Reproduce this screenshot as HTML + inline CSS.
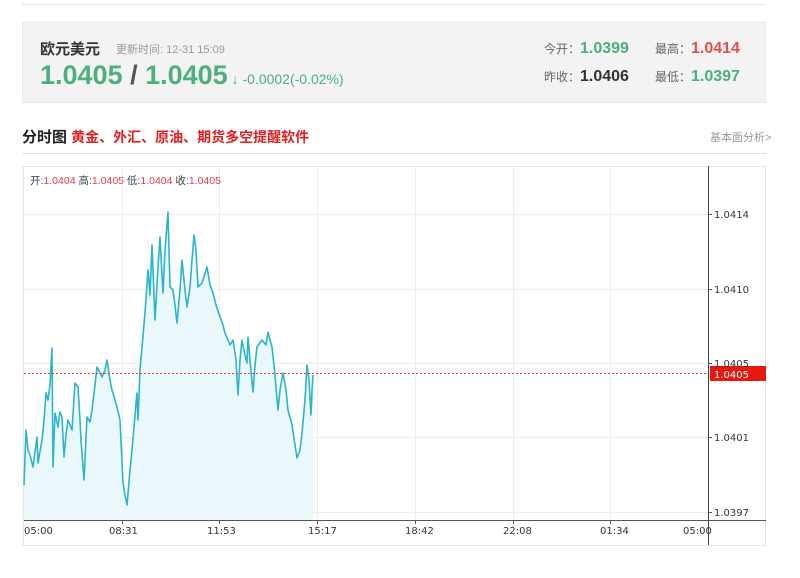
<!DOCTYPE html>
<html><head><meta charset="utf-8"><style>
body{margin:0;width:800px;height:578px;background:#fff;font-family:"Liberation Sans","Noto Sans CJK SC",sans-serif;position:relative;overflow:hidden}
.a{position:absolute;white-space:nowrap}
</style></head><body>
<div class="a" style="left:22px;top:0;width:744px;height:4px;border-bottom:1px solid #e6e6e6"></div>
<div class="a" style="left:22px;top:22px;width:744px;height:81px;background:#f3f3f3;border:1px solid #e8e8e8;box-sizing:border-box"></div>
<div class="a" style="left:40px;top:38px;font-size:15px;font-weight:bold;color:#333">欧元美元</div>
<div class="a" style="left:116px;top:41px;font-size:11px;color:#999">更新时间: 12-31 15:09</div>
<div class="a" style="left:40px;top:60px;font-size:27px;font-weight:bold;color:#4caf7d">1.0405<span style="color:#555"> / </span>1.0405<span style="font-size:14px;font-weight:normal"> ↓ </span><span style="font-size:14px;font-weight:normal">-0.0002(-0.02%)</span></div>
<div class="a" style="left:544px;top:40px;font-size:12px;color:#666">今开：<span style="font-size:16px;font-weight:bold;color:#4caf7d">1.0399</span></div>
<div class="a" style="left:655px;top:40px;font-size:12px;color:#666">最高：<span style="font-size:16px;font-weight:bold;color:#e05050">1.0414</span></div>
<div class="a" style="left:544px;top:68px;font-size:12px;color:#666">昨收：<span style="font-size:16px;font-weight:bold;color:#333">1.0406</span></div>
<div class="a" style="left:655px;top:68px;font-size:12px;color:#666">最低：<span style="font-size:16px;font-weight:bold;color:#4caf7d">1.0397</span></div>
<div class="a" style="left:22px;top:126px;font-size:15px;font-weight:bold;color:#222">分时图 <span style="color:#e02020;font-size:14px">黄金、外汇、原油、期货多空提醒软件</span></div>
<div class="a" style="left:710px;top:129px;font-size:11px;color:#999">基本面分析&gt;</div>
<div class="a" style="left:22px;top:153px;width:744px;height:1px;background:#ddd"></div>
<svg class="a" style="left:0;top:0" width="800" height="578">
<rect x="23.5" y="166.5" width="742" height="379" fill="none" stroke="#e8e8e8"/>
<g stroke="#ececec" stroke-width="1">
<line x1="24" y1="214.5" x2="708" y2="214.5"/><line x1="24" y1="289.5" x2="708" y2="289.5"/><line x1="24" y1="363.5" x2="708" y2="363.5"/><line x1="24" y1="437.5" x2="708" y2="437.5"/><line x1="24" y1="512.5" x2="708" y2="512.5"/>
<line x1="122.5" y1="167" x2="122.5" y2="520"/><line x1="219.5" y1="167" x2="219.5" y2="520"/><line x1="317.5" y1="167" x2="317.5" y2="520"/><line x1="415.5" y1="167" x2="415.5" y2="520"/><line x1="513.5" y1="167" x2="513.5" y2="520"/><line x1="610.5" y1="167" x2="610.5" y2="520"/>
</g>
<polygon fill="#eaf8fb" points="24,520 24,485 26,430 28,450 33,467 37,437 38,463 42,440 46,393 48,400 52,348 53,467 55,413 58,427 62,417 64,457 68,420 72,430 75,383 78,387 81,440 84,480 87,417 92,410 97,367 102,377 107,360 112,390 117,407 120,420 123,483 127,505 132,450 137,393 138,420 142,347 145,313 148,270 152,245 155,320 158,267 160,237 163,293 165,250 168,212 170,287 173,290 177,323 182,260 187,307 190,287 194,235 198,287 202,283 207,267 213,293 220,317 225,333 233,340 238,395 242,340 247,363 248,337 253,392 257,347 268,332 272,347 278,410 283,373 288,410 297,458 302,433 307,365 311,415 313,375 313,520"/>
<polyline fill="none" stroke="#2bb5cc" stroke-width="1.6" stroke-linejoin="round" points="24,485 26,430 28,450 30,455 33,467 35,452 37,437 38,463 42,440 44,420 46,393 48,400 50,385 52,348 53,467 55,413 58,427 60,412 62,417 64,457 66,435 68,420 72,430 75,383 78,387 80,420 81,440 84,480 87,417 90,422 92,410 95,385 97,367 102,377 105,370 107,360 110,380 112,390 117,407 120,420 123,483 125,495 127,505 130,470 132,450 135,415 137,393 138,420 140,370 142,347 145,313 148,270 150,295 152,245 155,320 158,267 160,237 163,293 165,250 168,212 170,287 173,290 175,305 177,323 180,290 182,260 185,290 187,307 190,287 192,260 194,235 196,250 198,287 202,283 207,267 210,285 213,293 216,305 220,317 223,325 225,333 230,345 233,340 236,360 238,395 240,360 242,340 245,355 247,363 248,337 250,360 253,392 255,365 257,347 262,340 266,345 268,332 270,340 272,347 275,375 278,410 280,390 283,373 286,390 288,410 292,425 297,458 300,450 302,433 305,400 307,365 309,380 311,415 312,390 313,375"/>
<line x1="24" y1="373.5" x2="708" y2="373.5" stroke="#e04040" stroke-dasharray="2,2" stroke-width="1"/>
<line x1="708.5" y1="166" x2="708.5" y2="545" stroke="#444"/>
<line x1="24" y1="520.5" x2="766" y2="520.5" stroke="#555"/>
<g stroke="#555"><line x1="708" y1="214.5" x2="712" y2="214.5"/><line x1="708" y1="289.5" x2="712" y2="289.5"/><line x1="708" y1="363.5" x2="712" y2="363.5"/><line x1="708" y1="437.5" x2="712" y2="437.5"/><line x1="708" y1="512.5" x2="712" y2="512.5"/>
<line x1="122.5" y1="520" x2="122.5" y2="524"/><line x1="219.5" y1="520" x2="219.5" y2="524"/><line x1="317.5" y1="520" x2="317.5" y2="524"/><line x1="415.5" y1="520" x2="415.5" y2="524"/><line x1="513.5" y1="520" x2="513.5" y2="524"/><line x1="610.5" y1="520" x2="610.5" y2="524"/></g>
<rect x="710" y="366" width="56" height="15" fill="#e8190c"/>
<g font-family="DejaVu Sans,sans-serif" font-size="10" fill="#333">
<text x="714" y="218">1.0414</text><text x="714" y="293">1.0410</text><text x="714" y="367">1.0405</text><text x="714" y="441">1.0401</text><text x="714" y="516">1.0397</text>
<text x="714" y="378" fill="#fff">1.0405</text>
<text x="24" y="534">05:00</text><text x="109" y="534">08:31</text><text x="207" y="534">11:53</text><text x="308" y="534">15:17</text><text x="405" y="534">18:42</text><text x="503" y="534">22:08</text><text x="600" y="534">01:34</text><text x="683" y="534">05:00</text>
</g>
<text x="30" y="184" font-size="10.5" fill="#444" font-family="Liberation Sans,Noto Sans CJK SC,sans-serif">开:<tspan fill="#e04040">1.0404</tspan>  高:<tspan fill="#e04040">1.0405</tspan>  低:<tspan fill="#e04040">1.0404</tspan>  收:<tspan fill="#e04040">1.0405</tspan></text>
</svg>
</body></html>
